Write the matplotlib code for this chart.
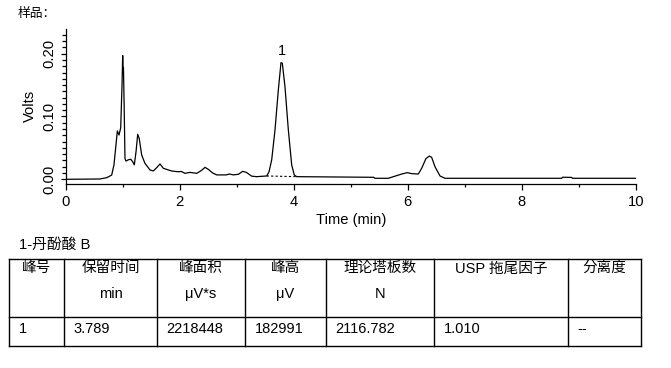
import numpy as np
import matplotlib
matplotlib.use("Agg")
import matplotlib.pyplot as plt
from matplotlib.ticker import MultipleLocator, FormatStrFormatter

plt.rcParams['font.family'] = ['Liberation Sans', 'Noto Sans CJK SC', 'DejaVu Sans']

# chromatogram trace (time in min, signal in volts)
t = [0.0, 0.60, 0.72, 0.807, 0.847, 0.882, 0.906, 0.935, 0.965, 0.988,
     1.000, 1.006, 1.013, 1.025, 1.04, 1.058, 1.097, 1.14, 1.175, 1.204,
     1.234, 1.263, 1.29, 1.333, 1.39, 1.479, 1.537, 1.596, 1.654, 1.713,
     1.86, 1.976, 2.03, 2.093, 2.18, 2.30, 2.38, 2.444, 2.50, 2.58,
     2.649, 2.82, 2.87, 2.94, 3.03, 3.105, 3.17, 3.263, 3.35, 3.526,
     3.567, 3.614, 3.672, 3.73, 3.777, 3.80, 3.847, 3.906, 3.965, 4.01,
     4.053, 5.40, 5.426, 5.66, 5.777, 5.895, 5.993, 6.07, 6.186, 6.245,
     6.32, 6.38, 6.42, 6.479, 6.567, 6.654, 8.70, 8.72, 8.877, 8.89, 10.0]
volts = [0.0, 0.0005, 0.0026, 0.0068, 0.023, 0.055, 0.077, 0.0705, 0.082, 0.150,
         0.197, 0.176, 0.178, 0.120, 0.033, 0.029, 0.031, 0.032, 0.028, 0.023,
         0.044, 0.0716, 0.065, 0.0387, 0.0255, 0.0148, 0.0133, 0.0185, 0.0244, 0.0175,
         0.0132, 0.0120, 0.0125, 0.0095, 0.011, 0.0095, 0.014, 0.019, 0.016, 0.010,
         0.007, 0.007, 0.0085, 0.007, 0.008, 0.0127, 0.011, 0.005, 0.0042, 0.0053,
         0.012, 0.031, 0.0785, 0.142, 0.1857, 0.185, 0.1475, 0.0785, 0.0228, 0.0068,
         0.0042, 0.0032, 0.0016, 0.0016, 0.005, 0.0084, 0.0106, 0.009, 0.0084, 0.0175,
         0.033, 0.037, 0.035, 0.020, 0.0053, 0.0016, 0.0016, 0.0033, 0.003, 0.0016, 0.0016]

# integration baseline of peak 1
base_t = [3.526, 4.053]
base_v = [0.0053, 0.0042]
peak_label = "1"
peak_pos = (3.79, 0.193)

# result table
table_title = "1-丹酚酸 B"
head1 = ["峰号", "保留时间", "峰面积", "峰高", "理论塔板数", "USP 拖尾因子", "分离度"]
head2 = ["", "min", "μV*s", "μV", "N", "", ""]
row1 = ["1", "3.789", "2218448", "182991", "2116.782", "1.010", "--"]

W, H = 671, 368
fig = plt.figure(figsize=(W / 100, H / 100), dpi=100)

ax = fig.add_axes([65.7 / W, 1 - 183.7 / H, 570 / W, 154.7 / H])
ax.plot(t, volts, color='black', lw=0.9)
ax.plot(base_t, base_v, color='black', lw=0.8, ls=(0, (2, 2)))
ax.text(peak_pos[0], peak_pos[1], peak_label, ha='center', va='bottom', fontsize=10.4)

ax.set_xlim(0, 10)
ax.set_ylim(-0.007, 0.2393)
for s in ['top', 'right']:
    ax.spines[s].set_visible(False)
for s in ['left', 'bottom']:
    ax.spines[s].set_linewidth(0.9)

ax.xaxis.set_major_locator(MultipleLocator(2))
ax.xaxis.set_minor_locator(MultipleLocator(1))
ax.yaxis.set_major_locator(MultipleLocator(0.1))
ax.yaxis.set_minor_locator(MultipleLocator(0.01))
ax.yaxis.set_major_formatter(FormatStrFormatter('%.2f'))
ax.tick_params(axis='x', which='major', length=4.3, width=0.9, pad=4, labelsize=10.6)
ax.tick_params(axis='x', which='minor', length=2.5, width=0.9)
ax.tick_params(axis='y', which='major', length=3.6, width=0.9, pad=3, labelsize=10.6)
ax.tick_params(axis='y', which='minor', length=3.0, width=0.9)
for lab in ax.get_yticklabels():
    lab.set_rotation(90)
    lab.set_va('center')

ax.set_xlabel("Time (min)", fontsize=10.6, labelpad=2.5)
ax.set_ylabel("Volts", fontsize=10.6, labelpad=4)

fig.text(18 / W, 1 - 14.2 / H, "样品：", fontsize=9.2, ha='left', va='center')

# table drawn in pixel coordinates
tab = fig.add_axes([0, 0, 1, 1])
tab.set_xlim(0, W)
tab.set_ylim(H, 0)
tab.axis('off')

cols = [9.3, 64.3, 156.7, 245.3, 325.7, 434.3, 568.3, 641]
top, mid, bot = 258.7, 317.3, 346
tab.text(19, 245, table_title, fontsize=10.6, ha='left', va='center')
for x in cols:
    tab.plot([x, x], [top, bot], color='black', lw=1.0)
for y in [top, mid, bot]:
    tab.plot([cols[0], cols[-1]], [y, y], color='black', lw=1.0)

for i in range(len(head1)):
    cx = (cols[i] + cols[i + 1]) / 2
    tab.text(cx, 268.3, head1[i], fontsize=10.5, ha='center', va='center')
    if head2[i]:
        tab.text(cx, 294, head2[i], fontsize=10.5, ha='center', va='center')
    tab.text(cols[i] + 9.5, 329.3, row1[i], fontsize=10.5, ha='left', va='center')

fig.savefig("out.png", dpi=100)
